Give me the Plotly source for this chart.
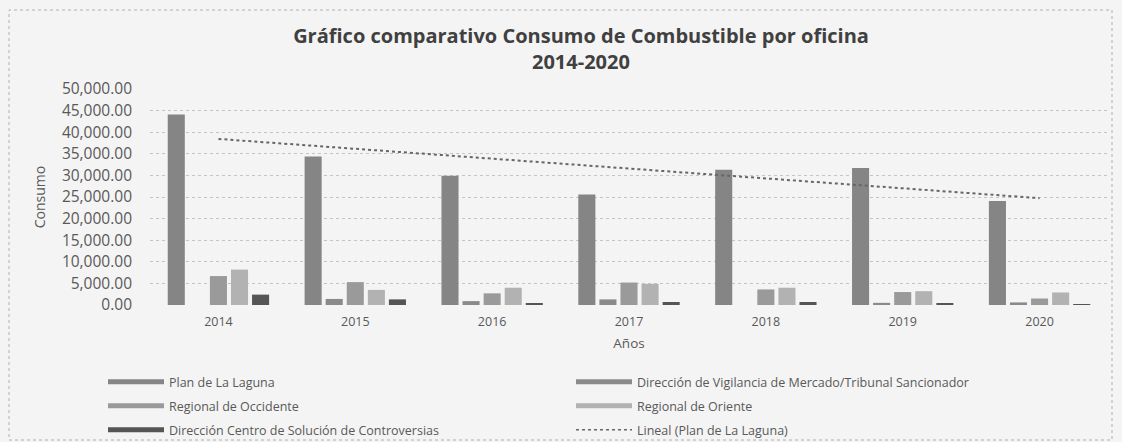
import numpy as np
import plotly.graph_objects as go

years = ["2014", "2015", "2016", "2017", "2018", "2019", "2020"]
plan_laguna = [44100, 34400, 29900, 25600, 31300, 31700, 24100]
vigilancia = [0, 1400, 900, 1300, 0, 500, 600]
occidente = [6700, 5300, 2700, 5200, 3600, 3000, 1500]
oriente = [8200, 3500, 4000, 4900, 4000, 3200, 2900]
centro = [2400, 1300, 400, 700, 700, 400, 200]

names = [
    "Plan de La Laguna",
    "Dirección de Vigilancia de Mercado/Tribunal Sancionador",
    "Regional de Occidente",
    "Regional de Oriente",
    "Dirección Centro de Solución de Controversias",
]
series = [plan_laguna, vigilancia, occidente, oriente, centro]
colors = ["#858585", "#8a8a8a", "#9a9a9a", "#b2b2b2", "#555555"]

trend_name = "Lineal (Plan de La Laguna)"
xi = np.arange(len(years))
slope, intercept = np.polyfit(xi, plan_laguna, 1)
trend = list(intercept + slope * xi)

H = 442.0
font_fam = "Open Sans"

fig = go.Figure()
for nm, vals, c in zip(names, series, colors):
    fig.add_trace(go.Bar(x=years, y=vals, name=nm, marker_color=c,
                         marker_line_width=0, showlegend=False))

fig.add_trace(go.Scatter(x=years, y=trend, mode="lines", name=trend_name,
                         line=dict(color="#666666", width=2, dash="dot"),
                         showlegend=False))

# legend entries: thin swatches, two columns x three rows, one legend box each
col_x = [103, 571]
row_y = [382, 406, 430]
legend_layout = {}
entries = [(names[i], dict(color=colors[i], width=5)) for i in range(5)]
entries.append((trend_name, dict(color="#666666", width=1.5, dash="dot")))
for k, (nm, ln) in enumerate(entries):
    lid = "legend" if k == 0 else f"legend{k + 1}"
    fig.add_trace(go.Scatter(x=[None], y=[None], mode="lines", name=nm,
                             legend=lid, line=ln))
    legend_layout[lid] = dict(
        xref="paper", x=(col_x[k % 2] - 150) / 958, xanchor="left",
        yref="container", y=1 - row_y[k // 2] / H, yanchor="middle",
        itemwidth=56, font=dict(size=12.5, color="#595959", family=font_fam),
        bgcolor="rgba(0,0,0,0)", itemclick=False)

fig.update_layout(
    width=1122, height=442,
    margin=dict(l=150, r=14, t=89, b=137),
    paper_bgcolor="#f4f4f4", plot_bgcolor="#f4f4f4",
    barmode="group", bargap=0.23, bargroupgap=0.19,
    font=dict(family=font_fam, color="#595959"),
    title=dict(text="Gráfico comparativo Consumo de Combustible por oficina",
               x=(581 - 150) / 958, xref="paper", xanchor="center",
               yref="container", y=1 - 36 / H, yanchor="middle",
               font=dict(size=20, color="#404040", family=font_fam, weight="bold")),
    annotations=[dict(text="<b>2014-2020</b>", xref="paper", yref="paper",
                      x=(581 - 150) / 958, y=(305 - 61) / 216,
                      xanchor="center", yanchor="middle", showarrow=False,
                      font=dict(size=20, color="#404040", family=font_fam))],
    xaxis=dict(type="category", showgrid=False, zeroline=False, showline=False,
               tickfont=dict(size=12.5, color="#595959"), ticklabelstandoff=7,
               title=dict(text="Años", font=dict(size=13.5, color="#595959"), standoff=10)),
    yaxis=dict(range=[0, 50000], dtick=5000, tickformat=",.2f",
               showgrid=True, gridcolor="#c4c4c4", griddash="dot", gridwidth=1,
               zeroline=False, showline=False,
               tickfont=dict(size=15.5, color="#595959"), ticklabelstandoff=17,
               title=dict(text="Consumo", font=dict(size=14, color="#595959"), standoff=12)),
    shapes=[dict(type="rect", xref="paper", yref="paper",
                 x0=(9 - 150) / 958, x1=(1112 - 150) / 958,
                 y0=(305 - 440) / 216, y1=(305 - 10) / 216,
                 line=dict(color="#b0b0b0", width=1, dash="dot"))],
    **legend_layout,
)

fig.write_html("out.html")
